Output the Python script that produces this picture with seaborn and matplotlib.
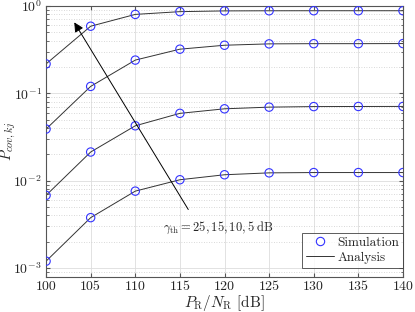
import numpy as np
import pandas as pd
import matplotlib
matplotlib.use("Agg")
import matplotlib.pyplot as plt
import seaborn as sns
from matplotlib.ticker import LogLocator, FixedLocator, FuncFormatter, NullFormatter

# data
snr_db = [100, 105, 110, 115, 120, 125, 130, 135, 140]
p_th5 = [0.217, 0.586, 0.80, 0.86, 0.877, 0.88, 0.881, 0.881, 0.881]
p_th10 = [0.039, 0.12, 0.24, 0.32, 0.355, 0.368, 0.37, 0.37, 0.371]
p_th15 = [0.0068, 0.0213, 0.0425, 0.059, 0.0665, 0.0695, 0.0705, 0.0707, 0.0708]
p_th25 = [0.0012, 0.00378, 0.0076, 0.01026, 0.0117, 0.0123, 0.0124, 0.0124, 0.0124]

curves = {"5": p_th5, "10": p_th10, "15": p_th15, "25": p_th25}
df = pd.concat([pd.DataFrame({"snr": snr_db, "p": v, "gamma": k})
                for k, v in curves.items()], ignore_index=True)

sns.set_style("ticks")
plt.rcParams["font.family"] = ["cmr10", "DejaVu Serif"]
plt.rcParams["mathtext.fontset"] = "cm"
plt.rcParams["axes.formatter.use_mathtext"] = True

fig = plt.figure(figsize=(4.15, 3.12), dpi=100)
ax = fig.add_axes([0.111, 0.112, 0.86, 0.869])

sns.lineplot(data=df, x="snr", y="p", units="gamma", estimator=None,
             color="#333333", lw=0.7, ax=ax, legend=False)
sns.scatterplot(data=df, x="snr", y="p", marker="o", s=36,
                facecolor="none", edgecolor="#3333ff", linewidth=0.8, ax=ax,
                legend=False, zorder=3)

ax.set_yscale("log")
ax.set_xlim(100, 140)
ax.set_ylim(7.9e-4, 1)
ax.xaxis.set_major_locator(FixedLocator(snr_db))
ax.xaxis.set_major_formatter(FuncFormatter(lambda v, p: f"{int(v)}"))
ax.yaxis.set_major_locator(LogLocator(base=10))
ax.yaxis.set_minor_locator(LogLocator(base=10, subs=np.arange(2, 10)))
ax.yaxis.set_minor_formatter(NullFormatter())

ax.grid(which="major", color="#dddddd", lw=0.6, ls="-")
ax.grid(which="minor", axis="y", color="#cccccc", lw=0.6, ls=(0, (1, 2)))
ax.set_axisbelow(True)

for s in ax.spines.values():
    s.set_color("#555555")
    s.set_linewidth(0.8)
ax.tick_params(which="both", direction="in", top=True, right=True,
               labelsize=10, color="#555555", pad=3)
ax.tick_params(which="major", length=3)
ax.tick_params(which="minor", length=1.8)

ax.set_xlabel(r"$P_{\mathrm{R}}/N_{\mathrm{R}}$ [dB]", fontsize=11, labelpad=0)
ax.set_ylabel(r"$P_{cov,kj}$", fontsize=10.5)
ax.yaxis.set_label_coords(-0.078, 0.5)

ax.annotate("", xy=(103.0, 0.69), xytext=(116.1, 0.0044),
            arrowprops=dict(arrowstyle="-|>", color="black", lw=0.7,
                            mutation_scale=14))
ax.text(113.1, 0.00285, r"$\gamma_{\mathrm{th}} = 25, 15, 10, 5\ \mathrm{dB}$",
        fontsize=9, va="center")

h1 = plt.Line2D([], [], marker="o", ls="none", mfc="none", mec="#3333ff",
                mew=0.8, ms=6)
h2 = plt.Line2D([], [], color="#333333", lw=0.7)
leg = ax.legend([h1, h2], ["Simulation", "Analysis"], loc="lower right",
                bbox_to_anchor=(1.0, 0.035), fontsize=9.5, frameon=True,
                fancybox=False, borderaxespad=0, handlelength=2.1,
                handletextpad=0.25, borderpad=0.3, labelspacing=0.2)
leg.get_frame().set_edgecolor("#333333")
leg.get_frame().set_linewidth(0.7)

fig.savefig("out.png", dpi=100)
